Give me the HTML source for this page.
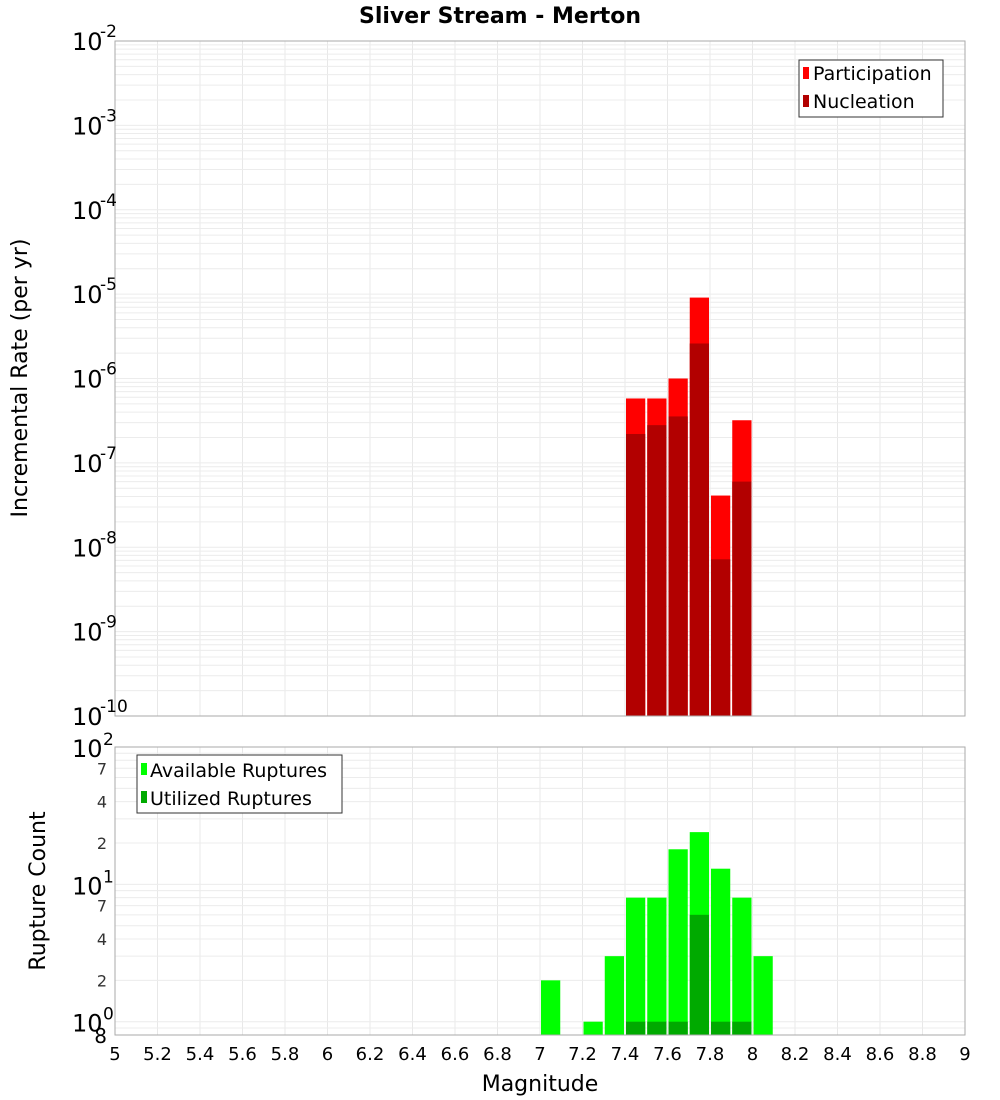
<!DOCTYPE html>
<html><head><meta charset="utf-8"><style>
body{margin:0;background:#fff;}
svg{display:block;font-family:"DejaVu Sans","Liberation Sans",sans-serif;}
</style></head><body>
<svg id="c" width="1000" height="1100" xmlns="http://www.w3.org/2000/svg">
<text x="500" y="23" text-anchor="middle" font-weight="bold" font-size="22">Sliver Stream - Merton</text>
<g id="gtop"></g>
<g id="gbot"></g>
<text transform="translate(27,378) rotate(-90)" text-anchor="middle" font-size="22">Incremental Rate (per yr)</text>
<text transform="translate(45,891) rotate(-90)" text-anchor="middle" font-size="22">Rupture Count</text>
<text x="540" y="1091" text-anchor="middle" font-size="22">Magnitude</text>
<g id="legends"></g>
</svg>
<script>
const mags = [7.05,7.15,7.25,7.35,7.45,7.55,7.65,7.75,7.85,7.95,8.05];
const participation = [0,0,0,0,5.8e-7,5.8e-7,1.0e-6,9.1e-6,4.1e-8,3.2e-7,0];
const nucleation = [0,0,0,0,2.2e-7,2.8e-7,3.55e-7,2.6e-6,7.2e-9,6.0e-8,0];
const available = [2,0,1,3,8,8,18,24,13,8,3];
const utilized = [0,0,0,0,1,1,1,6,1,1,0];
const xTicks = [5,5.2,5.4,5.6,5.8,6,6.2,6.4,6.6,6.8,7,7.2,7.4,7.6,7.8,8,8.2,8.4,8.6,8.8,9];
const topExps = [-10,-9,-8,-7,-6,-5,-4,-3,-2];
const botMinorLabels = [2,4,7];

const NS="http://www.w3.org/2000/svg";
const X0=115,X1=965;
const xs=m=>X0+(m-5)/4*(X1-X0);
const TY0=41,TY1=716;
const ty=v=>TY1-(Math.log10(v)+10)/8*(TY1-TY0);
const BY0=747,BY1=1035,BMIN=0.8,BMAX=100;
const by=v=>BY1-(Math.log10(v)-Math.log10(BMIN))/(Math.log10(BMAX)-Math.log10(BMIN))*(BY1-BY0);
function mk(p,tag,a){const e=document.createElementNS(NS,tag);for(const k in a)e.setAttribute(k,a[k]);p.appendChild(e);return e;}
const gTop=document.getElementById('gtop'),gBot=document.getElementById('gbot'),svgEl=document.getElementById('c');

function grid(g,Y0,Y1,yf,decs){
  for(const t of xTicks){mk(g,'line',{x1:xs(t),x2:xs(t),y1:Y0,y2:Y1,stroke:'#e8e8e8'});}
  for(const d of decs)for(let k=1;k<10;k++){const v=k*Math.pow(10,d);const y=yf(v);if(y<Y0-0.5||y>Y1+0.5)continue;mk(g,'line',{x1:X0,x2:X1,y1:y,y2:y,stroke:'#ececec'});}
}
grid(gTop,TY0,TY1,ty,[-10,-9,-8,-7,-6,-5,-4,-3,-2]);
grid(gBot,BY0,BY1,by,[-1,0,1,2]);

mags.forEach((m,i)=>{
  const x=xs(m-0.05)+1,w=xs(m+0.05)-xs(m-0.05)-2;
  if(participation[i]>0){const r=mk(gTop,'rect',{x:x,y:ty(participation[i]),width:w,height:TY1-ty(participation[i]),fill:'#ff0000'});
  
  }
  if(nucleation[i]>0){const r=mk(gTop,'rect',{x:x,y:ty(nucleation[i]),width:w,height:TY1-ty(nucleation[i]),fill:'#b20000'});
  
  }
  if(available[i]>0){const r=mk(gBot,'rect',{x:x,y:by(available[i]),width:w,height:BY1-by(available[i]),fill:'#00ff00'});
  
  }
  if(utilized[i]>0){const r=mk(gBot,'rect',{x:x,y:by(utilized[i]),width:w,height:BY1-by(utilized[i]),fill:'#00aa00'});
  
  }
});
mk(gTop,'rect',{x:X0,y:TY0,width:X1-X0,height:TY1-TY0,fill:'none',stroke:'#aaa'});
mk(gBot,'rect',{x:X0,y:BY0,width:X1-X0,height:BY1-BY0,fill:'none',stroke:'#aaa'});

for(const e of topExps){
  const y=ty(Math.pow(10,e));
  const t=mk(svgEl,'text',{x:72,y:y+9,'font-size':24});
  
  
  t.textContent='10';
  const s=mk(svgEl,'text',{x:100,y:y-4,'font-size':17});
  s.textContent=String(e);
}
for(const d of [0,1,2]){
  const y=by(Math.pow(10,d));
  const t=mk(svgEl,'text',{x:72,y:y+10,'font-size':24});
  
  
  t.textContent='10';
  const s=mk(svgEl,'text',{x:103,y:y-2,'font-size':17});
  s.textContent=String(d);
  if(d<2)for(const k of botMinorLabels){
    const yy=by(k*Math.pow(10,d));
    const l=mk(svgEl,'text',{x:107,y:yy+6,'font-size':16,'text-anchor':'end',fill:'#333'});
    l.textContent=String(k);
  }
}
{const l=mk(svgEl,'text',{x:107,y:by(0.8)+8,'font-size':20,'text-anchor':'end'});l.textContent='8';}
for(const t of xTicks){
  const l=mk(svgEl,'text',{x:xs(t),y:1060,'font-size':18,'text-anchor':'middle'});
  
  
  l.textContent=String(t);
}
// legends drawn last so they sit above grid
document.getElementById('legends').innerHTML=
'<g><rect x="799" y="60" width="144" height="57" fill="#fff" stroke="#333"/><rect x="803" y="67" width="6" height="12" fill="#ff0000"/><text x="813" y="80" font-size="19">Participation</text><rect x="803" y="95" width="6" height="12" fill="#b20000"/><text x="813" y="108" font-size="19">Nucleation</text></g>'+
'<g><rect x="137" y="755" width="205" height="58" fill="#fff" stroke="#333"/><rect x="141" y="763" width="6" height="12" fill="#00ff00"/><text x="150" y="777" font-size="19">Available Ruptures</text><rect x="141" y="791" width="6" height="12" fill="#00aa00"/><text x="150" y="805" font-size="19">Utilized Ruptures</text></g>';
svgEl.appendChild(document.getElementById('legends'));
</script>
</body></html>
